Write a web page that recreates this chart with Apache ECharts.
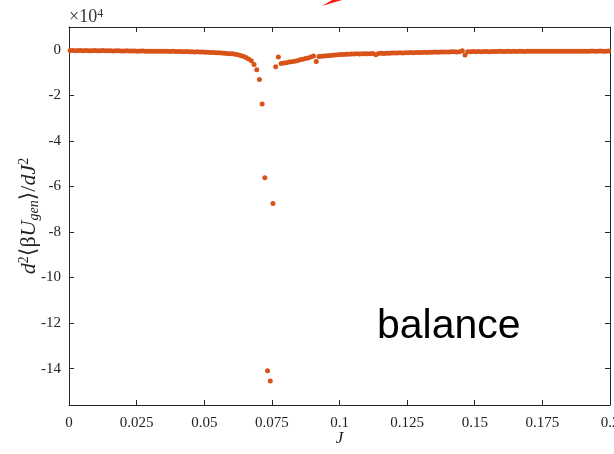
<!DOCTYPE html>
<html>
<head>
<meta charset="utf-8">
<script src="https://cdn.jsdelivr.net/npm/echarts@6/dist/echarts.min.js"></script>
<style>html,body{margin:0;padding:0;background:#fff}#c{width:614px;height:454px}</style>
</head>
<body>
<div id="c"></div>
<script>
// J values (x)
var J = [
0.0004,0.0014,0.0024,0.0034,0.0044,0.0054,0.0064,0.0074,0.0084,0.0094,
0.0104,0.0114,0.0124,0.0134,0.0144,0.0154,0.0164,0.0174,0.0184,0.0194,
0.0204,0.0214,0.0224,0.0234,0.0244,0.0254,0.0264,0.0274,0.0284,0.0294,
0.0304,0.0314,0.0324,0.0334,0.0344,0.0354,0.0364,0.0374,0.0384,0.0394,
0.0404,0.0414,0.0424,0.0434,0.0444,0.0454,0.0464,0.0474,0.0484,0.0494,
0.0504,0.0514,0.0524,0.0534,0.0544,0.0554,0.0564,0.0574,0.0584,0.0594,
0.0604,0.0614,0.0624,0.0634,0.0644,0.0654,0.0664,0.0674,0.0684,0.0694,
0.0704,0.0714,0.0724,0.0734,0.0744,0.0754,0.0764,0.0774,0.0784,0.0794,
0.0804,0.0814,0.0824,0.0834,0.0844,0.0854,0.0864,0.0874,0.0884,0.0894,
0.0904,0.0914,0.0924,0.0934,0.0944,0.0954,0.0964,0.0974,0.0984,0.0994,
0.1004,0.1014,0.1024,0.1034,0.1044,0.1054,0.1064,0.1074,0.1084,0.1094,
0.1104,0.1114,0.1124,0.1134,0.1144,0.1154,0.1164,0.1174,0.1184,0.1194,
0.1204,0.1214,0.1224,0.1234,0.1244,0.1254,0.1264,0.1274,0.1284,0.1294,
0.1304,0.1314,0.1324,0.1334,0.1344,0.1354,0.1364,0.1374,0.1384,0.1394,
0.1404,0.1414,0.1424,0.1434,0.1444,0.1454,0.1464,0.1474,0.1484,0.1494,
0.1504,0.1514,0.1524,0.1534,0.1544,0.1554,0.1564,0.1574,0.1584,0.1594,
0.1604,0.1614,0.1624,0.1634,0.1644,0.1654,0.1664,0.1674,0.1684,0.1694,
0.1704,0.1714,0.1724,0.1734,0.1744,0.1754,0.1764,0.1774,0.1784,0.1794,
0.1804,0.1814,0.1824,0.1834,0.1844,0.1854,0.1864,0.1874,0.1884,0.1894,
0.1904,0.1914,0.1924,0.1934,0.1944,0.1954,0.1964,0.1974,0.1984,0.1994
];
// d^2<beta U_gen>/dJ^2 in units of 1e4
var D2U = [
-0.03,-0.03,-0.04,-0.03,-0.03,-0.04,-0.03,-0.04,-0.04,-0.03,
-0.04,-0.04,-0.03,-0.04,-0.04,-0.04,-0.05,-0.04,-0.04,-0.05,
-0.05,-0.04,-0.05,-0.05,-0.05,-0.06,-0.05,-0.05,-0.06,-0.06,
-0.06,-0.06,-0.07,-0.06,-0.07,-0.07,-0.07,-0.08,-0.07,-0.08,
-0.08,-0.08,-0.09,-0.08,-0.09,-0.09,-0.10,-0.09,-0.10,-0.10,
-0.11,-0.11,-0.12,-0.12,-0.13,-0.13,-0.14,-0.15,-0.16,-0.17,
-0.18,-0.20,-0.22,-0.25,-0.29,-0.34,-0.40,-0.48,-0.65,-0.88,
-1.31,-2.38,-5.62,-14.1,-14.55,-6.75,-0.75,-0.32,-0.60,-0.58,
-0.57,-0.54,-0.53,-0.50,-0.48,-0.44,-0.42,-0.38,-0.36,-0.32,
-0.27,-0.52,-0.30,-0.29,-0.27,-0.26,-0.25,-0.24,-0.23,-0.22,
-0.21,-0.21,-0.20,-0.20,-0.19,-0.19,-0.18,-0.19,-0.18,-0.17,
-0.17,-0.17,-0.16,-0.22,-0.16,-0.15,-0.16,-0.15,-0.15,-0.14,
-0.14,-0.14,-0.13,-0.14,-0.13,-0.13,-0.12,-0.13,-0.12,-0.12,
-0.12,-0.11,-0.12,-0.11,-0.11,-0.10,-0.11,-0.10,-0.10,-0.10,
-0.10,-0.09,-0.09,-0.10,-0.09,-0.04,-0.23,-0.09,-0.09,-0.08,
-0.09,-0.08,-0.09,-0.08,-0.08,-0.09,-0.08,-0.08,-0.08,-0.07,
-0.08,-0.08,-0.07,-0.08,-0.07,-0.08,-0.07,-0.07,-0.08,-0.07,
-0.07,-0.07,-0.06,-0.07,-0.07,-0.06,-0.07,-0.07,-0.06,-0.07,
-0.06,-0.07,-0.06,-0.06,-0.07,-0.06,-0.06,-0.06,-0.07,-0.06,
-0.06,-0.06,-0.06,-0.05,-0.06,-0.06,-0.05,-0.06,-0.06,-0.05
];
var yTicks = [-14, -12, -10, -8, -6, -4, -2, 0];

var pts = J.map(function (j, i) { return [j, D2U[i]]; });
var axisColor = '#262626';
var serif = '"Liberation Serif", "DejaVu Serif", serif';

var chart = echarts.init(document.getElementById('c'), null, {renderer: 'canvas'});
chart.setOption({
  animation: false,
  backgroundColor: '#fff',
  grid: {left: 69, right: 4, top: 27, bottom: 49, containLabel: false, outerBoundsMode: 'none'},
  xAxis: [{
    type: 'value', min: 0, max: 0.2, interval: 0.025, position: 'bottom',
    name: 'J', nameLocation: 'middle', nameGap: 25, nameMoveOverlap: false,
    nameTextStyle: {fontFamily: serif, fontStyle: 'italic', fontSize: 17, color: '#222'},
    axisLine: {show: true, onZero: false, lineStyle: {color: axisColor, width: 1}},
    axisTick: {show: true, inside: true, length: 5, lineStyle: {color: axisColor}},
    axisLabel: {fontFamily: serif, fontSize: 15, color: '#222', margin: 11, showMaxLabel: true,
      alignMaxLabel: 'center',
      formatter: function (v) { return String(+v.toFixed(3)); }},
    splitLine: {show: false}
  }, {
    type: 'value', min: 0, max: 0.2, interval: 0.025, position: 'top',
    axisLine: {show: true, onZero: false, lineStyle: {color: axisColor, width: 1}},
    axisTick: {show: true, inside: true, length: 5, lineStyle: {color: axisColor}},
    axisLabel: {show: false}, splitLine: {show: false}
  }],
  yAxis: [{
    type: 'value', min: -15.6, max: 1, position: 'left',
    name: '{i|d}{sup|2}{n|\u27E8\u03B2}{i|U}{sub|gen}{n|\u27E9/}{i|dJ}{sup|2}',
    nameLocation: 'middle', nameGap: 28, nameRotate: 90, nameMoveOverlap: false,
    nameTextStyle: {
      fontFamily: serif, fontSize: 22, color: '#222',
      rich: {
        i: {fontFamily: serif, fontStyle: 'italic', fontSize: 22, color: '#222', lineHeight: 24},
        n: {fontFamily: serif, fontSize: 22, color: '#222', lineHeight: 24},
        sup: {fontFamily: serif, fontSize: 14, color: '#222', verticalAlign: 'top', lineHeight: 24, padding: [0, 0, 10, 0]},
        sub: {fontFamily: serif, fontStyle: 'italic', fontSize: 14, color: '#222', verticalAlign: 'bottom', lineHeight: 24, padding: [10, 0, 0, 0]}
      }
    },
    axisLine: {show: true, onZero: false, lineStyle: {color: axisColor, width: 1}},
    axisTick: {show: true, inside: true, length: 5, lineStyle: {color: axisColor}, customValues: yTicks},
    axisLabel: {fontFamily: serif, fontSize: 15, color: '#222', margin: 8, customValues: yTicks,
      formatter: function (v) { return String(v); }},
    splitLine: {show: false}
  }, {
    type: 'value', min: -15.6, max: 1, position: 'right',
    axisLine: {show: true, onZero: false, lineStyle: {color: axisColor, width: 1}},
    axisTick: {show: true, inside: true, length: 5, lineStyle: {color: axisColor}, customValues: yTicks},
    axisLabel: {show: false, customValues: yTicks}, splitLine: {show: false}
  }],
  series: [{
    type: 'scatter', xAxisIndex: 0, yAxisIndex: 0,
    data: pts, symbol: 'circle', symbolSize: 5,
    itemStyle: {color: '#D95319', opacity: 1}
  }],
  graphic: [
    {type: 'text', left: 69, top: 8, style: {
      text: '\u00D710{s|4}', fill: '#333', font: '18px ' + serif,
      rich: {s: {fontSize: 12, fontFamily: serif, fill: '#333', verticalAlign: 'top', padding: [0, 0, 7, 0]}}
    }},
    {type: 'text', left: 377, top: 306, style: {
      text: 'balance', fill: '#000', font: '41px "Liberation Sans", Arial, sans-serif'
    }},
    {type: 'polygon', shape: {points: [[322, 6], [332, 0], [342, 0]]}, style: {fill: '#ff1a1a'}}
  ]
});
</script>
</body>
</html>
